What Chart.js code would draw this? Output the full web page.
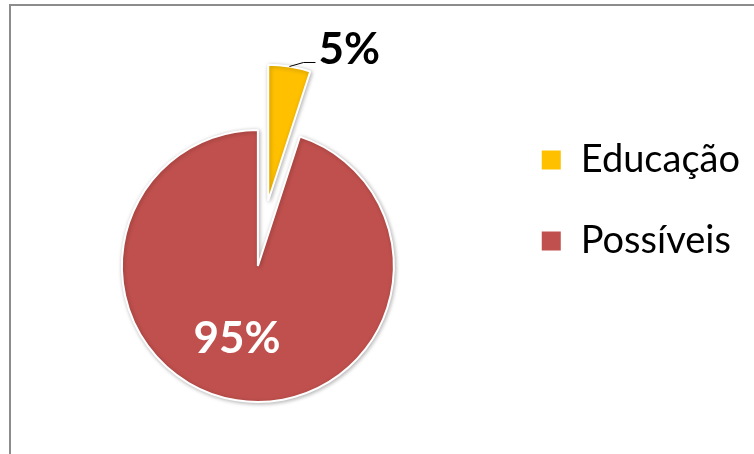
<!DOCTYPE html>
<html>
<head>
<meta charset="utf-8">
<script src="https://cdn.jsdelivr.net/npm/chart.js@4.4.1/dist/chart.umd.min.js"></script>
<style>
  html, body { margin: 0; padding: 0; background: #fff; }
  #wrap { position: relative; width: 754px; height: 454px; overflow: hidden; }
  #frame { position: absolute; left: 9px; top: 4px; right: -10px; bottom: -10px;
           border-left: 2px solid #8c8c8c; border-top: 2px solid #8c8c8c; }
  canvas { position: absolute; left: 0; top: 0; }
</style>
</head>
<body>
<div id="wrap"><div id="frame"></div><canvas id="pie" width="754" height="454"></canvas></div>
<script>
  "use strict";

  const categories = ["Educação", "Possíveis"];
  const shares = [5, 95];
  const sliceColors = ["#FFC000", "#C0504D"];
  const explode = [66, 0];

  // pull exploded slices out along their bisector, keeping the radius
  const explodeSlices = {
    id: "explodeSlices",
    afterDatasetsUpdate(chart) {
      chart.getDatasetMeta(0).data.forEach((arc, i) => {
        const d = explode[i] || 0;
        if (!d) return;
        const mid = (arc.startAngle + arc.endAngle) / 2;
        arc.x += Math.cos(mid) * d;
        arc.y += Math.sin(mid) * d;
      });
    }
  };

  const softShadow = {
    id: "softShadow",
    beforeDatasetsDraw(chart) {
      const ctx = chart.ctx;
      ctx.save();
      ctx.shadowColor = "rgba(0,0,0,0.28)";
      ctx.shadowBlur = 4;
      ctx.shadowOffsetX = 1;
      ctx.shadowOffsetY = 1;
    },
    afterDatasetsDraw(chart) {
      chart.ctx.restore();
    }
  };

  const sliceLabels = {
    id: "sliceLabels",
    afterDatasetsDraw(chart) {
      const ctx = chart.ctx;
      chart.getDatasetMeta(0).data.forEach((arc, i) => {
        const text = `${shares[i]}%`;
        const mid = (arc.startAngle + arc.endAngle) / 2;
        const r = arc.outerRadius;
        ctx.save();
        ctx.font = "bold 44px Lato";
        if (shares[i] < 10) {
          // outside label with a leader line
          const ax = arc.x + Math.cos(mid) * r;
          const ay = arc.y + Math.sin(mid) * r;
          const ex = ax + 14, ey = ay - 4;
          ctx.strokeStyle = "#000";
          ctx.lineWidth = 1;
          ctx.beginPath();
          ctx.moveTo(ax, ay);
          ctx.lineTo(ex, ey);
          ctx.lineTo(ex + 12, ey);
          ctx.stroke();
          ctx.fillStyle = "#000";
          ctx.textAlign = "left";
          ctx.textBaseline = "alphabetic";
          ctx.fillText(text, ex + 15, ey + 2);
        } else {
          ctx.fillStyle = "#fff";
          ctx.textAlign = "center";
          ctx.textBaseline = "middle";
          ctx.fillText(text, arc.x + Math.cos(mid) * r * 0.56 - 9, arc.y + Math.sin(mid) * r * 0.56 - 2);
        }
        ctx.restore();
      });
    }
  };

  Chart.defaults.color = "#000";
  Chart.defaults.font.family = "Lato, 'Open Sans', sans-serif";

  new Chart(document.getElementById("pie"), {
    type: "pie",
    data: {
      labels: categories,
      datasets: [{
        data: shares,
        backgroundColor: sliceColors,
        borderColor: "#fff",
        borderWidth: 2
      }]
    },
    options: {
      responsive: false,
      animation: false,
      events: [],
      radius: 136,
      layout: { padding: { left: 18, right: 4, top: 98, bottom: 20 } },
      plugins: {
        tooltip: { enabled: false },
        legend: {
          position: "right",
          align: "start",
          labels: {
            boxWidth: 21,
            boxHeight: 21,
            padding: 43,
            font: { size: 38 },
            color: "#000"
          }
        }
      }
    },
    plugins: [explodeSlices, softShadow, sliceLabels]
  });
</script>
</body>
</html>
